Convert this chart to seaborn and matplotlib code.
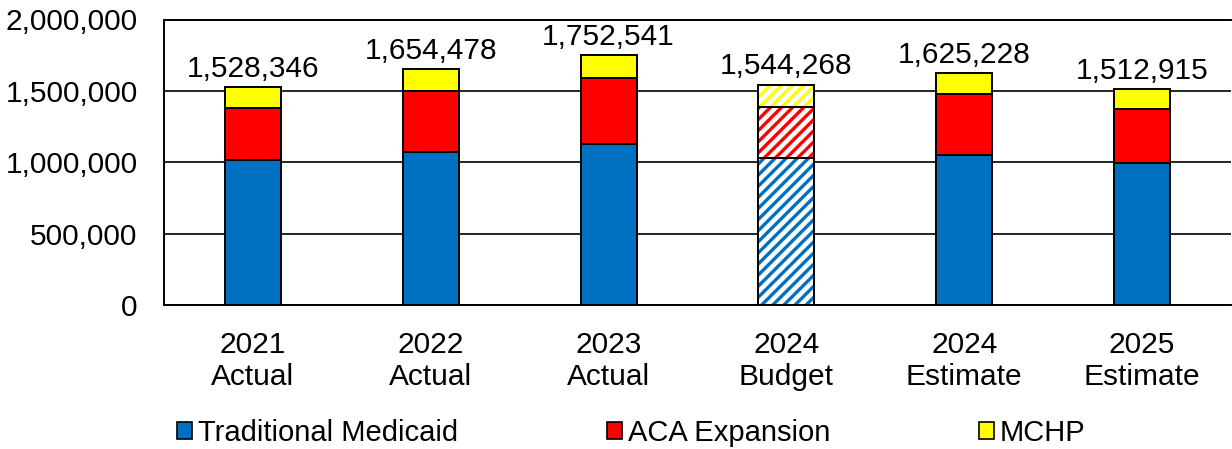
import matplotlib
matplotlib.use("Agg")
import matplotlib.pyplot as plt
import seaborn as sns
import pandas as pd
import numpy as np
from matplotlib.patches import Rectangle

categories = ["2021\nActual", "2022\nActual", "2023\nActual", "2024\nBudget", "2024\nEstimate", "2025\nEstimate"]
totals = [1528346, 1654478, 1752541, 1544268, 1625228, 1512915]
traditional = [1017500, 1071000, 1127000, 1029000, 1052000, 994000]
aca = [365500, 426000, 462000, 361000, 425000, 382000]
mchp = [t - a - b for t, a, b in zip(totals, traditional, aca)]
series_names = ["Traditional Medicaid", "ACA Expansion", "MCHP"]
series_colors = ["#0070C0", "#FF0000", "#FFFF00"]
hatched_category = "2024\nBudget"

sns.set_theme(style="white")
plt.rcParams["font.family"] = ["Liberation Sans", "DejaVu Sans"]
plt.rcParams["hatch.linewidth"] = 2.4
plt.rcParams["text.color"] = "black"

fig = plt.figure(figsize=(12.32, 4.49), dpi=100)
ax = fig.add_axes([164 / 1232, 1 - 305 / 449, 1 - 164 / 1232 - 1 / 1232, (305 - 19.5) / 449])

df = pd.DataFrame({"cat": categories, "Traditional Medicaid": traditional,
                   "ACA Expansion": aca, "MCHP": mchp})
bottom = np.zeros(len(categories))
hidx = categories.index(hatched_category)
for name, col in zip(series_names, series_colors):
    n_before = len(ax.patches)
    sns.barplot(data=df, x="cat", y=name, color=col, bottom=bottom.copy(),
                width=0.315, edgecolor="black", linewidth=1.4, ax=ax,
                saturation=1, label=name, zorder=3)
    patches = ax.patches[n_before:]
    p = patches[hidx]
    p.set_facecolor("white")
    p.set_edgecolor(col)
    p.set_hatch("///")
    p.set_linewidth(0)
    ax.add_patch(Rectangle((p.get_x(), p.get_y()), p.get_width(), p.get_height(),
                           fill=False, edgecolor="black", linewidth=1.4, zorder=4))
    bottom += df[name].to_numpy()

top_container = ax.containers[-1]
ax.bar_label(top_container, labels=[f"{t:,}" for t in totals], padding=3,
             fontsize=21.5, color="black")

ax.set_ylim(0, 2000000)
ax.set_yticks(range(0, 2000001, 500000))
ax.set_yticklabels([f"{v:,}" for v in range(0, 2000001, 500000)], fontsize=21.5)
ax.set_xlim(-0.5, len(categories) - 0.5)
ax.set_xlabel("")
ax.set_ylabel("")
ax.tick_params(axis="both", length=0, colors="black")
ax.tick_params(axis="y", pad=19)
ax.tick_params(axis="x", pad=19)
for lbl in ax.get_xticklabels():
    lbl.set_fontsize(21.5)
    lbl.set_linespacing(1.15)
ax.yaxis.grid(True, color="black", linewidth=1.2, zorder=0)
ax.set_axisbelow(True)
for s in ["left", "top", "bottom"]:
    ax.spines[s].set_visible(True)
    ax.spines[s].set_color("black")
    ax.spines[s].set_linewidth(1.4)
ax.spines["right"].set_visible(False)
if ax.get_legend():
    ax.get_legend().remove()

handles = [Rectangle((0, 0), 1, 1, facecolor=c, edgecolor="black", linewidth=1.2) for c in series_colors]
leg = fig.legend(handles, series_names, loc="center", bbox_to_anchor=(631 / 1232, 1 - 433 / 449),
                 ncol=3, frameon=False, fontsize=21, handlelength=0.52, handleheight=0.52,
                 handletextpad=0.2, columnspacing=5.1, borderaxespad=0)
for t in leg.get_texts():
    t.set_color("black")

fig.savefig("out.png", dpi=100)
